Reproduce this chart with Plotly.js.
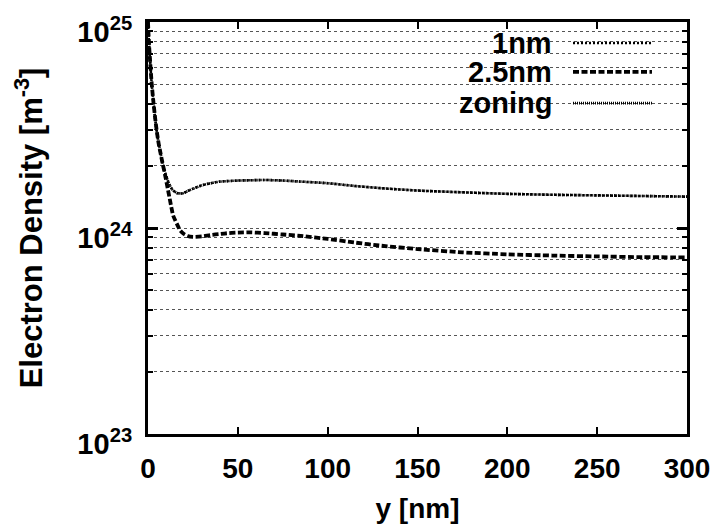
<!DOCTYPE html>
<html>
<head>
<meta charset="utf-8">
<script src="https://cdn.plot.ly/plotly-3.0.1.min.js"></script>
<style>html,body{margin:0;padding:0;background:#fff;}#chart{width:721px;height:530px;}</style>
</head>
<body>
<div id="chart"></div>
<script>
// Position along y (nm)
const yNm = [0, 0.5, 1, 2, 3, 4, 5, 6, 7, 8, 9, 10, 11, 12, 13, 14, 16, 18, 20, 22, 25, 30, 35, 40, 45, 50, 57, 65, 75, 85, 100, 115, 130, 150, 175, 200, 225, 250, 275, 300];

// Electron density (m^-3)
const density1nm = [1.0e25, 8.0e24, 6.8e24, 5.1e24, 4.1e24, 3.4e24, 2.9e24, 2.55e24, 2.3e24, 2.08e24, 1.92e24, 1.8e24, 1.7e24, 1.62e24, 1.56e24, 1.52e24, 1.48e24, 1.47e24, 1.48e24, 1.51e24, 1.55e24, 1.61e24, 1.65e24, 1.68e24, 1.69e24, 1.70e24, 1.705e24, 1.71e24, 1.70e24, 1.68e24, 1.65e24, 1.60e24, 1.56e24, 1.52e24, 1.49e24, 1.465e24, 1.45e24, 1.44e24, 1.43e24, 1.42e24];

const density25nm = [1.0e25, 8.0e24, 6.8e24, 5.1e24, 4.1e24, 3.4e24, 2.9e24, 2.55e24, 2.3e24, 2.08e24, 1.9e24, 1.72e24, 1.55e24, 1.40e24, 1.26e24, 1.15e24, 1.05e24, 9.7e23, 9.35e23, 9.15e23, 9.05e23, 9.1e23, 9.25e23, 9.35e23, 9.45e23, 9.5e23, 9.52e23, 9.45e23, 9.3e23, 9.15e23, 8.85e23, 8.5e23, 8.2e23, 7.9e23, 7.62e23, 7.45e23, 7.35e23, 7.28e23, 7.22e23, 7.2e23];

const densityZoning = [1.0e25, 8.0e24, 6.8e24, 5.1e24, 4.1e24, 3.4e24, 2.9e24, 2.55e24, 2.3e24, 2.08e24, 1.92e24, 1.8e24, 1.7e24, 1.62e24, 1.56e24, 1.52e24, 1.48e24, 1.47e24, 1.48e24, 1.51e24, 1.55e24, 1.61e24, 1.65e24, 1.68e24, 1.69e24, 1.70e24, 1.705e24, 1.71e24, 1.70e24, 1.68e24, 1.65e24, 1.60e24, 1.56e24, 1.52e24, 1.49e24, 1.465e24, 1.45e24, 1.44e24, 1.43e24, 1.42e24];

const seriesNames = ['1nm', '2.5nm', 'zoning'];
const xTicks = [0, 50, 100, 150, 200, 250, 300];
const yMajorTicks = [1e23, 1e24, 1e25];
const yMajorLabels = ['10<sup>23</sup>', '10<sup>24</sup>', '10<sup>25</sup>'];
const yMinorTicks = [2e23, 3e23, 4e23, 5e23, 6e23, 7e23, 8e23, 9e23, 2e24, 3e24, 4e24, 5e24, 6e24, 7e24, 8e24, 9e24];

const FONT = 'Liberation Sans, Arial, Helvetica, sans-serif';

const styles = [
  {color: 'black', width: 2.6, dash: '2px,2px'},
  {color: 'black', width: 3.8, dash: '6px,2.5px'},
  {color: 'black', width: 2.6, dash: '1px,1px'}
];
const seriesData = [density1nm, density25nm, densityZoning];

const traces = seriesData.map((d, i) => ({
  x: yNm, y: d, type: 'scatter', mode: 'lines', name: seriesNames[i],
  line: Object.assign({shape: 'spline', smoothing: 0.6}, styles[i]),
  showlegend: false
}));

// Legend drawn gnuplot-style: right-aligned text, sample on the right
const legRows = [0.949, 0.879, 0.803];
const annotations = seriesNames.map((n, i) => ({
  xref: 'paper', yref: 'paper', x: 0.753, y: legRows[i], xanchor: 'right', yanchor: 'middle',
  text: n, showarrow: false, font: {size: 29, color: 'black', family: FONT, weight: 'bold'}
}));
const shapes = [{
  type: 'rect', xref: 'paper', yref: 'paper', x0: 0.558, x1: 0.968, y0: 0.765, y1: 0.995,
  fillcolor: 'white', line: {width: 0}, layer: 'between'
}].concat(seriesNames.map((n, i) => ({
  type: 'line', xref: 'paper', yref: 'paper', x0: 0.7885, x1: 0.935, y0: legRows[i], y1: legRows[i],
  line: {color: 'black', width: styles[i].width, dash: styles[i].dash}, layer: 'above'
})));

const layout = {
  width: 721, height: 530,
  margin: {l: 148, r: 34, t: 22, b: 96},
  paper_bgcolor: 'white', plot_bgcolor: 'white',
  font: {family: FONT, size: 28, color: 'black', weight: 'bold'},
  showlegend: false,
  xaxis: {
    range: [0, 300], tickmode: 'array', tickvals: xTicks,
    ticks: 'inside', ticklen: 7, tickwidth: 2, tickcolor: 'black',
    showline: true, linewidth: 3, linecolor: 'black', mirror: 'allticks',
    showgrid: false, zeroline: false,
    tickfont: {size: 28, weight: 'bold', family: FONT},
    ticklabelstandoff: 7,
    title: {text: 'y [nm]', font: {size: 28, weight: 'bold', family: FONT}, standoff: 16}
  },
  yaxis: {
    type: 'log', range: [23, 25], tickmode: 'array', tickvals: yMajorTicks, ticktext: yMajorLabels,
    ticks: 'inside', ticklen: 10, tickwidth: 3, tickcolor: 'black',
    showline: true, linewidth: 3, linecolor: 'black', mirror: 'allticks',
    showgrid: true, gridcolor: '#555', griddash: 'dot', gridwidth: 1,
    zeroline: false,
    tickfont: {size: 29, weight: 'bold', family: FONT},
    ticklabelstandoff: 7, ticklabelshift: 10, ticklabeloverflow: 'allow',
    minor: {tickmode: 'array', tickvals: yMinorTicks, ticks: 'inside', ticklen: 5, tickwidth: 2, tickcolor: 'black',
            showgrid: true, gridcolor: '#555', griddash: 'dot', gridwidth: 1},
    title: {text: 'Electron Density [m<sup>-3</sup>]', font: {size: 31, weight: 'bold', family: FONT}, standoff: 26}
  },
  annotations: annotations,
  shapes: shapes
};

Plotly.newPlot('chart', traces, layout, {displayModeBar: false, staticPlot: true});
</script>
</body>
</html>
